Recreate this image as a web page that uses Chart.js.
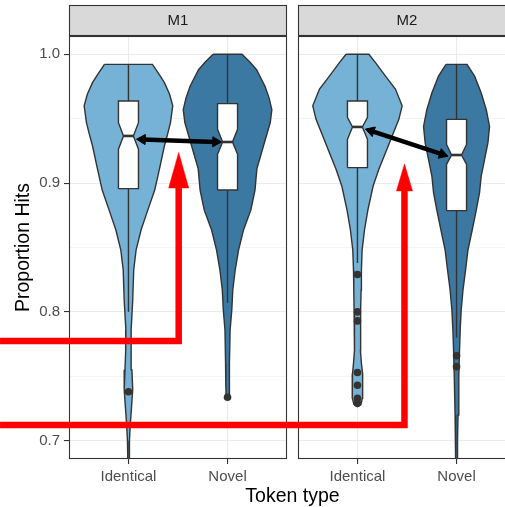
<!DOCTYPE html>
<html>
<head>
<meta charset="utf-8">
<script src="https://cdn.jsdelivr.net/npm/chart.js@4.4.1/dist/chart.umd.min.js"></script>
<style>
  html, body { margin: 0; padding: 0; background: #fff; overflow: hidden; }
  #wrap { width: 505px; height: 507px; overflow: hidden; }
</style>
</head>
<body>
<div id="wrap"><canvas id="violins" width="516" height="507"></canvas></div>
<script>
  // Facets and categories
  const panelLabels = ['M1', 'M2'];
  const panelRanges = [[0.4, 2.6], [2.711, 4.911]];
  const xTickLabels = ['Identical', 'Novel', 'Identical', 'Novel'];
  const groupCenters = [1, 2, 3.311, 4.311]; // M1 Identical, M1 Novel, M2 Identical, M2 Novel

  const yMajorTicks = [0.7, 0.8, 0.9, 1.0];
  const yMinorTicks = [0.75, 0.85, 0.95];
  const yTickLabels = ['0.7', '0.8', '0.9', '1.0'];

  // Violin outlines: proportion levels (top -> bottom) and half widths (in category units)
  const m1IdenticalLevels = [0.9922, 0.985, 0.978, 0.969, 0.960, 0.947, 0.938, 0.929, 0.911, 0.8946, 0.879, 0.8636, 0.848, 0.8325, 0.809, 0.786, 0.770, 0.755, 0.740, 0.725, 0.712, 0.700, 0.680];
  const m1IdenticalWidths = [0.242, 0.305, 0.363, 0.415, 0.447, 0.424, 0.395, 0.363, 0.313, 0.265, 0.195, 0.127, 0.077, 0.053, 0.043, 0.026, 0.028, 0.035, 0.043, 0.030, 0.018, 0.010, 0.006];

  const m1NovelLevels = [1.0, 0.994, 0.988, 0.975, 0.966, 0.957, 0.947, 0.929, 0.911, 0.8946, 0.879, 0.8636, 0.848, 0.8325, 0.817, 0.8016, 0.786, 0.760, 0.745, 0.736, 0.7337];
  const m1NovelWidths = [0.146, 0.225, 0.293, 0.379, 0.420, 0.447, 0.431, 0.363, 0.296, 0.277, 0.235, 0.161, 0.111, 0.077, 0.053, 0.043, 0.026, 0.020, 0.018, 0.015, 0.0];

  const m2IdenticalLevels = [1.0, 0.9935, 0.983, 0.973, 0.960, 0.9495, 0.9366, 0.9236, 0.9107, 0.8977, 0.879, 0.8636, 0.848, 0.8325, 0.817, 0.8016, 0.786, 0.770, 0.760, 0.752, 0.742, 0.733, 0.728, 0.7265];
  const m2IdenticalWidths = [0.115, 0.182, 0.283, 0.383, 0.451, 0.418, 0.350, 0.283, 0.216, 0.158, 0.105, 0.071, 0.047, 0.040, 0.037, 0.034, 0.030, 0.030, 0.040, 0.050, 0.055, 0.050, 0.035, 0.0];

  const m2NovelLevels = [0.9922, 0.983, 0.970, 0.957, 0.944, 0.9314, 0.9185, 0.9055, 0.8926, 0.879, 0.8636, 0.848, 0.8325, 0.817, 0.8016, 0.786, 0.770, 0.750, 0.720, 0.700, 0.680];
  const m2NovelWidths = [0.106, 0.182, 0.249, 0.300, 0.333, 0.317, 0.283, 0.249, 0.232, 0.199, 0.158, 0.115, 0.091, 0.065, 0.047, 0.037, 0.030, 0.023, 0.015, 0.010, 0.007];

  // Notched boxplots
  const boxQ3 = [0.9637, 0.9617, 0.9637, 0.9495];
  const notchHigh = [0.9469, 0.9418, 0.951, 0.930];
  const boxMedian = [0.9366, 0.9319, 0.9436, 0.9218];
  const notchLow = [0.9263, 0.9224, 0.934, 0.9146];
  const boxQ1 = [0.8957, 0.8946, 0.912, 0.8786];
  const whiskerHigh = [0.9922, 1.0, 1.0, 0.9922];
  const whiskerLow = [0.800, 0.807, 0.838, 0.780];
  const outliers = [[0.738], [0.7337], [0.829, 0.800, 0.793, 0.753, 0.743, 0.733, 0.729], [0.766, 0.7575]];

  // Black double arrows between medians: [x, y] of both ends
  const medianArrowStart = [[1.140, 0.9339], [3.448, 0.9405]];
  const medianArrowEnd = [[1.880, 0.9320], [4.169, 0.9223]];

  // Red annotation arrows
  const redArrowStartX = -0.296;
  const redArrowLineY = [0.7774, 0.7122];
  const redArrowX = [1.507, 3.7855];
  const redArrowBaseY = [0.8962, 0.8939];
  const redArrowTipY = [0.9238, 0.9148];

  const FONT = "'Liberation Sans', Arial, Helvetica, sans-serif";
  const fills = ['#75b2d5', '#3b79a3', '#75b2d5', '#3b79a3'];
  const violinLevels = [m1IdenticalLevels, m1NovelLevels, m2IdenticalLevels, m2NovelLevels];
  const violinWidths = [m1IdenticalWidths, m1NovelWidths, m2IdenticalWidths, m2NovelWidths];
  const boxHalf = 0.101;
  const notchHalf = 0.05;
  const redHeadHalf = [0.101, 0.081];
  const outline = 1.4;

  const violinOutline = (c, levels, widths) => {
    const left = levels.map((v, i) => ({ x: c - widths[i], y: v }));
    const right = levels.map((v, i) => ({ x: c + widths[i], y: v })).reverse();
    const pts = left.concat(right);
    pts.push(pts[0]);
    return pts;
  };

  const boxOutline = (c, g) => [
    { x: c - boxHalf, y: boxQ1[g] }, { x: c - boxHalf, y: notchLow[g] },
    { x: c - notchHalf, y: boxMedian[g] }, { x: c - boxHalf, y: notchHigh[g] },
    { x: c - boxHalf, y: boxQ3[g] }, { x: c + boxHalf, y: boxQ3[g] },
    { x: c + boxHalf, y: notchHigh[g] }, { x: c + notchHalf, y: boxMedian[g] },
    { x: c + boxHalf, y: notchLow[g] }, { x: c + boxHalf, y: boxQ1[g] },
    { x: c - boxHalf, y: boxQ1[g] }
  ];

  // Rotate triangle heads so they point away from the other end of the arrow
  const headRotation = (ctx) => {
    const { x, y } = ctx.chart.scales;
    const d = ctx.dataset.data;
    const here = d[ctx.dataIndex];
    const other = d[1 - ctx.dataIndex];
    const dx = x.getPixelForValue(here.x) - x.getPixelForValue(other.x);
    const dy = y.getPixelForValue(here.y) - y.getPixelForValue(other.y);
    return Math.atan2(dx, -dy) * 180 / Math.PI;
  };

  const datasets = [];
  groupCenters.forEach((c, g) => {
    datasets.push({
      data: violinOutline(c, violinLevels[g], violinWidths[g]),
      showLine: true, fill: 'shape', backgroundColor: fills[g],
      borderColor: '#333', borderWidth: outline, order: 10
    });
    datasets.push({
      data: [{ x: c, y: whiskerLow[g] }, { x: c, y: whiskerHigh[g] }],
      showLine: true, borderColor: '#333', borderWidth: outline, order: 9
    });
    datasets.push({
      data: boxOutline(c, g),
      showLine: true, fill: 'shape', backgroundColor: '#fff',
      borderColor: '#333', borderWidth: outline, order: 8
    });
    datasets.push({
      data: [{ x: c - notchHalf, y: boxMedian[g] }, { x: c + notchHalf, y: boxMedian[g] }],
      showLine: true, borderColor: '#333', borderWidth: 2.6, order: 7
    });
  });

  datasets.push({
    data: outliers.flatMap((vals, g) => vals.map(v => ({ x: groupCenters[g], y: v }))),
    showLine: false, pointRadius: 3.8, pointBackgroundColor: '#333', pointBorderColor: '#333',
    pointBorderWidth: 0, order: 6
  });

  medianArrowStart.forEach((s, i) => {
    const e = medianArrowEnd[i];
    datasets.push({
      data: [{ x: s[0], y: s[1] }, { x: e[0], y: e[1] }],
      showLine: true, borderColor: '#000', borderWidth: 4.5,
      pointStyle: 'triangle', pointRadius: 5.8, pointRotation: headRotation,
      pointBackgroundColor: '#000', pointBorderColor: '#000', pointBorderWidth: 1, order: 5
    });
  });

  redArrowX.forEach((vx, i) => {
    const stop = redArrowBaseY[i] + (redArrowTipY[i] - redArrowBaseY[i]) * 0.3;
    datasets.push({
      data: [{ x: redArrowStartX, y: redArrowLineY[i] }, { x: vx, y: redArrowLineY[i] }, { x: vx, y: stop }],
      showLine: true, borderColor: '#ff0000', borderWidth: 6.5,
      borderJoinStyle: 'miter', borderCapStyle: 'butt', clip: false, order: 4
    });
    datasets.push({
      data: [
        { x: vx - redHeadHalf[i], y: redArrowBaseY[i] }, { x: vx, y: redArrowTipY[i] },
        { x: vx + redHeadHalf[i], y: redArrowBaseY[i] }, { x: vx - redHeadHalf[i], y: redArrowBaseY[i] }
      ],
      showLine: true, fill: 'shape', backgroundColor: '#ff0000',
      borderColor: '#ff0000', borderWidth: 0.5, order: 3
    });
  });

  const isMajor = (v) => yMajorTicks.some(m => Math.abs(m - v) < 1e-9);

  // Facet panels, strips and the gap between them
  const facetPlugin = {
    id: 'facets',
    beforeDatasetsDraw(chart) {
      const { ctx, chartArea, scales: { x } } = chart;
      const top = chartArea.top;
      const bottom = chartArea.bottom;
      ctx.save();
      const gapL = x.getPixelForValue(panelRanges[0][1]);
      const gapR = x.getPixelForValue(panelRanges[1][0]);
      ctx.fillStyle = '#fff';
      ctx.fillRect(gapL, top - 2, gapR - gapL, bottom - top + 3);
      ctx.lineWidth = 1.1;
      ctx.strokeStyle = '#333';
      panelRanges.forEach((r, i) => {
        const l = Math.round(x.getPixelForValue(r[0])) + 0.5;
        const rr = Math.round(x.getPixelForValue(r[1])) - 0.5;
        ctx.strokeRect(l, top + 0.5, rr - l, bottom - top - 1);
        ctx.fillStyle = '#d9d9d9';
        ctx.fillRect(l, top - 30.5, rr - l, 30);
        ctx.strokeRect(l, top - 30.5, rr - l, 30);
        ctx.fillStyle = '#1a1a1a';
        ctx.font = '15px ' + FONT;
        ctx.textAlign = 'center';
        ctx.textBaseline = 'middle';
        ctx.fillText(panelLabels[i], (l + rr) / 2, top - 15.5);
      });
      ctx.restore();
    }
  };

  Chart.defaults.font.family = FONT;

  new Chart(document.getElementById('violins'), {
    type: 'scatter',
    data: { datasets },
    plugins: [facetPlugin],
    options: {
      responsive: false,
      devicePixelRatio: 1,
      animation: false,
      events: [],
      indexAxis: 'y',
      layout: { autoPadding: false, padding: { top: 36, left: 0, right: 0, bottom: 0 } },
      elements: { point: { radius: 0 }, line: { tension: 0 } },
      plugins: { legend: { display: false }, tooltip: { enabled: false } },
      scales: {
        x: {
          type: 'linear', position: 'bottom', min: 0.4, max: 4.911,
          afterBuildTicks: (s) => { s.ticks = groupCenters.map(v => ({ value: v })); },
          afterFit: (s) => { s.height = 48; s.paddingLeft = 0; s.paddingRight = 0; },
          ticks: {
            callback: (v, i) => xTickLabels[i], autoSkip: false, maxRotation: 0,
            color: '#4d4d4d', font: { size: 15 }, padding: 4
          },
          grid: { color: '#ebebeb', lineWidth: 1.1, tickLength: 5, tickColor: '#333', tickWidth: 1.1 },
          border: { display: false },
          title: { display: true, text: 'Token type', color: '#000', font: { size: 19.5 }, padding: { top: 0, bottom: -1 } }
        },
        y: {
          type: 'linear', position: 'left', min: 0.6858, max: 1.0142,
          afterBuildTicks: (s) => {
            s.ticks = yMajorTicks.concat(yMinorTicks).sort((a, b) => a - b).map(v => ({ value: v }));
          },
          afterFit: (s) => { s.width = 69; s.paddingTop = 0; s.paddingBottom = 0; },
          ticks: {
            callback: (v) => {
              const i = yMajorTicks.findIndex(m => Math.abs(m - v) < 1e-9);
              return i >= 0 ? yTickLabels[i] : '';
            },
            autoSkip: false, color: '#4d4d4d', font: { size: 15 }, padding: 4
          },
          grid: {
            color: '#ebebeb',
            lineWidth: (ctx) => (ctx.tick && isMajor(ctx.tick.value) ? 1.1 : 0.55),
            tickLength: 5,
            tickColor: (ctx) => (ctx.tick && isMajor(ctx.tick.value) ? '#333' : 'rgba(0,0,0,0)'),
            tickWidth: 1.1
          },
          border: { display: false },
          title: { display: true, text: 'Proportion Hits', color: '#000', font: { size: 19.5 }, padding: { top: 12, bottom: 0 } }
        }
      }
    }
  });
</script>
</body>
</html>
